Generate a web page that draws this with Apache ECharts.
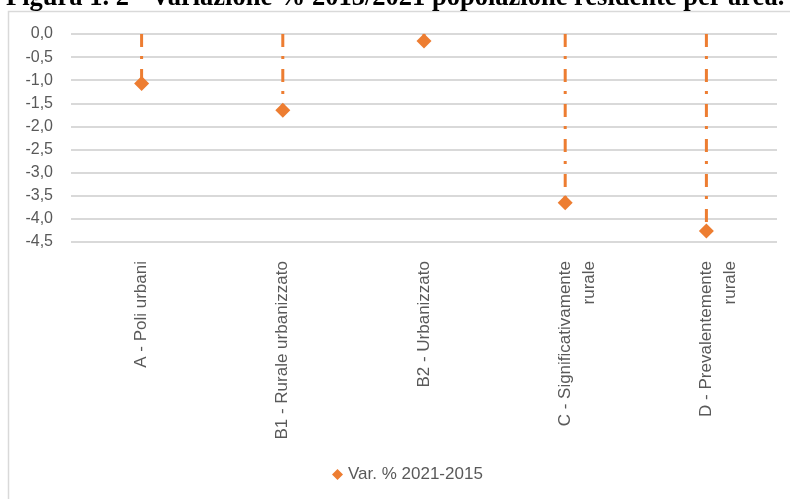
<!DOCTYPE html>
<html>
<head>
<meta charset="utf-8">
<script src="https://cdn.jsdelivr.net/npm/echarts@6/dist/echarts.min.js"></script>
<style>
html,body{margin:0;padding:0;background:#fff;}
#chart{width:790px;height:499px;}
</style>
</head>
<body>
<div id="chart"></div>
<script>
const titleText = 'Figura 1. 2 - Variazione % 2015/2021 popolazione residente per area.';
const categories = ['A - Poli urbani', 'B1 - Rurale urbanizzato', 'B2 - Urbanizzato', 'C - Significativamente\nrurale', 'D - Prevalentemente\nrurale'];
const seriesName = 'Var. % 2021-2015';
const values = [-1.07, -1.65, -0.15, -3.65, -4.26];
const yMin = -4.5, yMax = 0, yStep = 0.5;

const orange = '#ED7D31';
const grey = '#595959';
const font = 'Liberation Sans';

const chart = echarts.init(document.getElementById('chart'));
chart.setOption({
  animation: false,
  backgroundColor: '#fff',
  graphic: [
    { type: 'rect', shape: { x: 8.5, y: 11.5, width: 820, height: 520 },
      style: { fill: 'none', stroke: '#d9d9d9', lineWidth: 1.5 }, silent: true },
    { type: 'text', left: 6, top: -15, z: 10,
      style: { text: titleText, font: 'bold 26.5px "Liberation Serif"', fill: '#000' } }
  ],
  grid: { left: 71, right: 13, top: 34, bottom: 257, containLabel: false },
  legend: {
    data: [{ name: seriesName, icon: 'diamond' }],
    left: 327, top: 461, itemWidth: 11, itemHeight: 11, itemGap: 2,
    textStyle: { color: grey, fontSize: 17, fontFamily: font }
  },
  xAxis: {
    type: 'category', data: categories, boundaryGap: true,
    axisLine: { show: false }, axisTick: { show: false },
    axisLabel: { rotate: 90, margin: 19, color: grey, fontSize: 17, fontFamily: font, lineHeight: 24, interval: 0,
      formatter: function (v) { return v.indexOf('\n') >= 0 ? '{m|' + v.replace('\n', '}\n{m|') + '}' : v; },
      rich: { m: { fontSize: 17, fontFamily: font, color: grey, lineHeight: 24, padding: [0, 0, 0, 0] } },
      padding: [0, 0, 0, 0]
    }
  },
  yAxis: {
    type: 'value', min: yMin, max: yMax, interval: yStep,
    axisLine: { show: false }, axisTick: { show: false },
    axisLabel: { color: grey, fontSize: 16, fontFamily: font, margin: 18,
      formatter: v => v.toFixed(1).replace('.', ',') },
    splitLine: { lineStyle: { color: '#d9d9d9', width: 2 } }
  },
  series: [
    {
      type: 'custom', name: 'drop', silent: true, z: 1,
      data: values.map((v, i) => [i, v]),
      renderItem: function (params, api) {
        const p0 = api.coord([api.value(0), 0]);
        const p1 = api.coord([api.value(0), api.value(1)]);
        return { type: 'line', shape: { x1: p0[0], y1: p0[1], x2: p1[0], y2: p1[1] },
          style: { stroke: orange, lineWidth: 3, lineDash: [13, 9, 3, 10] } };
      }
    },
    {
      type: 'scatter', name: seriesName, data: values, z: 3,
      symbol: 'diamond', symbolSize: [15, 15],
      itemStyle: { color: orange, opacity: 1 }
    }
  ]
});
// shift the two-line labels so the first line sits on the category centre
chart.setOption({
  xAxis: {
    data: categories.map(c => c.indexOf('\n') >= 0
      ? { value: c, textStyle: { padding: [24, 0, 0, 0] } }
      : c)
  }
});
</script>
</body>
</html>
